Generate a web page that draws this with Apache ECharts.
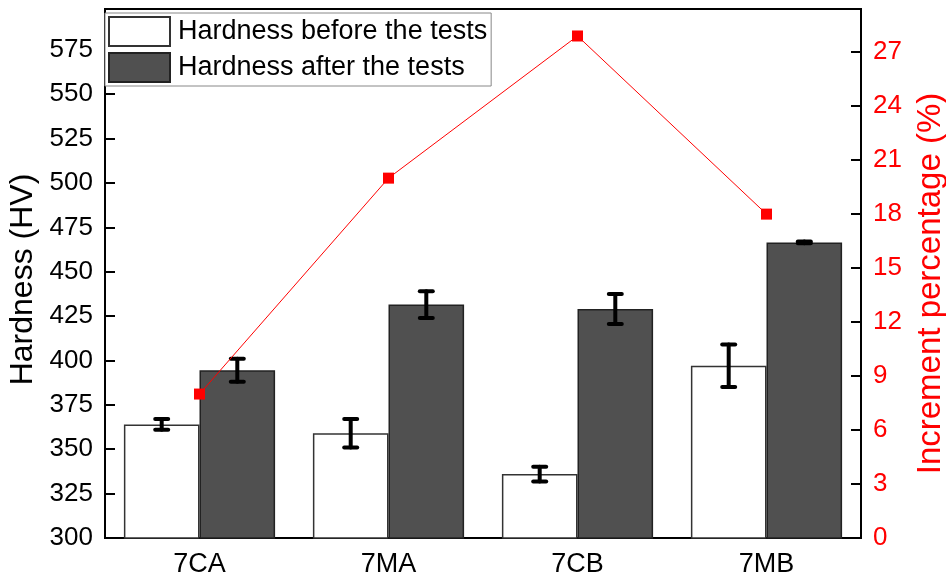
<!DOCTYPE html>
<html>
<head>
<meta charset="utf-8">
<script src="https://cdn.jsdelivr.net/npm/echarts@6/dist/echarts.min.js"></script>
<style>
  html, body { margin: 0; padding: 0; background: #fff; }
  #chart { width: 946px; height: 577px; }
</style>
</head>
<body>
<div id="chart"></div>
<script>
// values
var categories = ['7CA', '7MA', '7CB', '7MB']
var hardnessBefore = [364, 359, 336, 397]
var hardnessBeforeErr = [3, 8, 4.2, 12]
var hardnessAfter = [394.5, 431.5, 429, 466.5]
var hardnessAfterErr = [6.5, 7.5, 8.5, 0.5]
var incrementPct = [8, 20, 27.9, 18]

var FONT = 'Liberation Sans, Arial, sans-serif'

function errData (vals, errs) {
  return vals.map(function (v, i) { return [i, v, errs[i]] })
}

// error bar drawn at the left (-1) or right (+1) bar of each group
function errorBar (side) {
  return function (params, api) {
    var i = api.value(0)
    var v = api.value(1)
    var e = api.value(2)
    var hi = api.coord([i, v + e])
    var lo = api.coord([i, v - e])
    var band = api.size([1, 0])[0]
    var x = hi[0] + side * band * 0.2
    var half = 6.5
    var style = { stroke: '#000', lineWidth: 4, lineCap: 'round' }
    return {
      type: 'group',
      children: [
        { type: 'line', shape: { x1: x, y1: hi[1], x2: x, y2: lo[1] }, style: style },
        { type: 'line', shape: { x1: x - half, y1: hi[1], x2: x + half, y2: hi[1] }, style: style },
        { type: 'line', shape: { x1: x - half, y1: lo[1], x2: x + half, y2: lo[1] }, style: style }
      ]
    }
  }
}

var myChart = echarts.init(document.getElementById('chart'))
var option = {
  animation: false,
  textStyle: { fontFamily: FONT },
  grid: {
    left: 105,
    right: 85,
    top: 9,
    bottom: 39,
    outerBoundsMode: 'none',
    containLabel: false,
    show: true,
    borderColor: '#000',
    borderWidth: 2,
    backgroundColor: 'transparent'
  },
  legend: {
    data: ['Hardness before the tests', 'Hardness after the tests'],
    orient: 'vertical',
    icon: 'rect',
    left: 105,
    top: 13,
    padding: [3, 4, 3, 3],
    itemGap: 5,
    itemWidth: 61,
    itemHeight: 29,
    borderColor: '#888',
    borderWidth: 1,
    backgroundColor: '#fff',
    textStyle: { fontSize: 27, color: '#000', fontFamily: FONT, padding: [0, 0, 0, 3] }
  },
  xAxis: {
    type: 'category',
    data: categories,
    axisLine: { lineStyle: { color: '#000', width: 2 } },
    axisTick: { show: false },
    axisLabel: { fontSize: 27, color: '#000', margin: 13, fontFamily: FONT }
  },
  yAxis: [{
    type: 'value',
    min: 300,
    max: 598,
    interval: 25,
    name: 'Hardness (HV)',
    nameLocation: 'middle',
    nameGap: 60,
    nameTextStyle: { fontSize: 32, color: '#000', fontFamily: FONT, padding: [0, 12, 0, 0] },
    axisLine: { show: true, lineStyle: { color: '#000', width: 2 } },
    axisTick: { show: true, inside: true, length: 10, lineStyle: { color: '#000', width: 2 } },
    axisLabel: {
      fontSize: 26,
      color: '#000',
      margin: 12,
      fontFamily: FONT,
      showMaxLabel: false,
      formatter: function (v) { return v % 25 === 0 ? v : '' }
    },
    splitLine: { show: false }
  }, {
    type: 'value',
    min: 0,
    max: 29.4,
    interval: 3,
    name: 'Increment percentage (%)',
    nameLocation: 'middle',
    nameGap: 53,
    nameRotate: 90,
    nameTextStyle: { fontSize: 33, color: '#ff0000', fontFamily: FONT, padding: [0, 20, 0, 0] },
    axisLine: { show: true, lineStyle: { color: '#000', width: 2 } },
    axisTick: { show: true, inside: true, length: 10, lineStyle: { color: '#000', width: 2 } },
    axisLabel: {
      fontSize: 26,
      color: '#ff0000',
      margin: 12,
      fontFamily: FONT,
      showMaxLabel: false,
      formatter: function (v) { return v % 3 === 0 ? v : '' }
    },
    splitLine: { show: false }
  }],
  series: [{
    name: 'Hardness before the tests',
    type: 'bar',
    data: hardnessBefore,
    barWidth: '40%',
    barGap: '0%',
    itemStyle: { color: '#fff', borderColor: '#333', borderWidth: 1.5 }
  }, {
    name: 'Hardness after the tests',
    type: 'bar',
    data: hardnessAfter,
    barWidth: '40%',
    barGap: '0%',
    itemStyle: { color: '#505050', borderColor: '#222', borderWidth: 1.5 }
  }, {
    name: 'errBefore',
    type: 'custom',
    renderItem: errorBar(-1),
    encode: { x: 0, y: 1 },
    data: errData(hardnessBefore, hardnessBeforeErr),
    z: 5
  }, {
    name: 'errAfter',
    type: 'custom',
    renderItem: errorBar(1),
    encode: { x: 0, y: 1 },
    data: errData(hardnessAfter, hardnessAfterErr),
    z: 5
  }, {
    name: 'Increment percentage',
    type: 'line',
    yAxisIndex: 1,
    data: incrementPct,
    symbol: 'rect',
    symbolSize: 11,
    lineStyle: { color: '#ff0000', width: 1 },
    itemStyle: { color: '#ff0000' },
    z: 6
  }]
}
myChart.setOption(option)
</script>
</body>
</html>
